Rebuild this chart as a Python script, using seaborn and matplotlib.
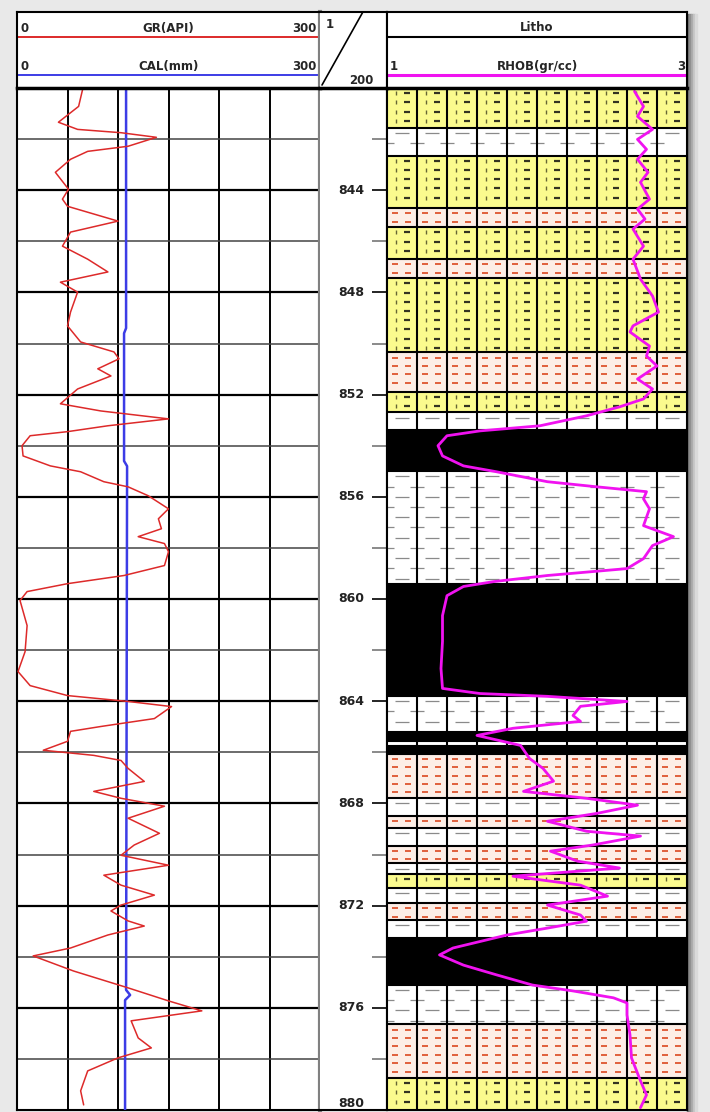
import numpy as np
import matplotlib
matplotlib.use("Agg")
import matplotlib.pyplot as plt
import seaborn as sns

# GR (API) vs depth (m)
gr_depth = [840.05, 840.72, 841.34, 841.62, 841.75, 841.93, 842.28, 842.48, 842.79, 843.30,
            843.96, 844.35, 844.63, 845.21, 845.64, 846.19, 846.70, 847.20, 847.60, 847.99,
            848.77, 849.31, 849.94, 850.33, 850.60, 850.99, 851.27, 851.78, 852.36, 852.64,
            852.95, 853.22, 853.45, 853.61, 854.00, 854.40, 854.79, 855.02, 855.41, 855.61,
            855.96, 856.47, 856.86, 857.25, 857.56, 857.83, 858.15, 858.69, 859.08, 859.40,
            859.71, 860.06, 861.04, 862.06, 862.84, 863.39, 863.78, 864.01, 864.21, 864.68,
            864.99, 865.18, 865.57, 865.92, 866.12, 866.32, 866.63, 867.14, 867.53, 867.80,
            868.11, 868.58, 869.17, 869.63, 870.03, 870.42, 870.81, 871.20, 871.59, 871.98,
            872.21, 872.60, 872.80, 873.15, 873.66, 873.97, 874.56, 875.22, 875.73, 876.12,
            876.51, 877.18, 877.57, 877.96, 878.47, 879.25, 879.80]
gr_api = [65, 61, 41, 60, 103, 138, 110, 70, 53, 38,
          51, 45, 50, 100, 53, 45, 70, 90, 43, 60,
          53, 50, 63, 96, 101, 80, 93, 60, 43, 83,
          150, 90, 50, 13, 5, 6, 33, 63, 86, 110,
          130, 150, 140, 143, 120, 146, 150, 146, 106, 50,
          10, 3, 10, 8, 1, 13, 50, 110, 153, 136,
          83, 53, 50, 26, 76, 103, 110, 126, 76, 103,
          146, 110, 141, 116, 103, 150, 86, 103, 136, 103,
          93, 110, 126, 90, 53, 16, 56, 110, 150, 183,
          113, 120, 133, 100, 70, 63, 66]

# CAL (mm) vs depth (m)
cal_depth = [840.0, 849.4, 849.6, 854.6, 854.8, 875.3, 875.5, 875.7, 880.0]
cal_mm = [108, 108, 106, 106, 109, 108, 112, 107, 107]

# RHOB (gr/cc) vs depth (m)
rhob_depth = [840.13, 840.72, 841.11, 841.62, 842.01, 842.40, 842.79, 843.30, 843.69, 844.35,
              844.74, 845.13, 845.52, 846.19, 846.70, 847.48, 848.14, 848.77, 849.31, 849.55,
              850.10, 850.49, 850.88, 851.39, 851.78, 852.17, 852.48, 852.83, 853.22, 853.42,
              853.61, 854.00, 854.40, 854.79, 855.02, 855.41, 855.61, 855.80, 856.08, 856.47,
              857.13, 857.56, 857.91, 858.42, 858.81, 859.08, 859.32, 859.51, 859.87, 860.65,
              861.66, 862.72, 863.50, 863.70, 863.81, 864.01, 864.20, 864.56, 864.79, 865.06,
              865.34, 865.73, 866.24, 866.63, 867.13, 867.53, 867.80, 868.07, 868.39, 868.70,
              869.09, 869.28, 869.63, 869.87, 870.26, 870.53, 870.85, 871.20, 871.63, 871.98,
              872.37, 872.61, 872.88, 873.15, 873.66, 873.93, 874.33, 874.71, 875.11, 875.34,
              875.61, 875.81, 876.28, 877.06, 877.96, 878.86, 879.41, 879.91]
rhob = [2.65, 2.71, 2.67, 2.77, 2.67, 2.73, 2.67, 2.74, 2.69, 2.75,
        2.67, 2.72, 2.64, 2.71, 2.64, 2.69, 2.77, 2.81, 2.64, 2.62,
        2.75, 2.73, 2.80, 2.67, 2.77, 2.71, 2.55, 2.33, 2.02, 1.62,
        1.40, 1.34, 1.37, 1.51, 1.73, 2.07, 2.40, 2.73, 2.71, 2.75,
        2.71, 2.91, 2.77, 2.71, 2.60, 2.07, 1.71, 1.51, 1.40, 1.37,
        1.37, 1.36, 1.37, 1.62, 2.07, 2.60, 2.29, 2.24, 2.29, 1.84,
        1.60, 1.89, 1.95, 2.04, 2.11, 1.91, 2.33, 2.67, 2.40, 2.07,
        2.33, 2.69, 2.37, 2.09, 2.27, 2.55, 1.84, 2.29, 2.47, 2.07,
        2.29, 2.33, 2.07, 1.80, 1.44, 1.35, 1.51, 1.73, 1.97, 2.24,
        2.51, 2.60, 2.60, 2.62, 2.63, 2.69, 2.73, 2.69]

# lithology column
litho_top = [840.0, 841.55, 842.65, 844.7, 845.45, 846.7, 847.45, 850.35, 851.9, 852.7,
             853.4, 855.0, 859.4, 863.8, 865.2, 865.55, 865.75, 866.05, 867.8, 868.5,
             868.95, 869.65, 870.35, 870.75, 871.3, 871.9, 872.55, 873.25, 875.1, 876.65,
             878.75]
litho_base = litho_top[1:] + [880.0]
litho_type = ["sand", "shale", "sand", "silt", "sand", "silt", "sand", "silt", "sand", "shale",
              "coal", "shale", "coal", "shale", "coal", "shale", "coal", "silt", "shale", "silt",
              "shale", "silt", "shale", "sand", "shale", "silt", "shale", "coal", "shale", "silt",
              "sand"]

depth_labels = [844, 848, 852, 856, 860, 864, 868, 872, 876, 880]

# ---- figure ----
sns.set_style("white")
plt.rcParams["font.family"] = ["DejaVu Sans"]
plt.rcParams["font.weight"] = "bold"

W, H = 710, 1112
TOP, BOT = 88, 1110
fig = plt.figure(figsize=(W / 100, H / 100), dpi=100, facecolor="#e9e9e9")


def box(x0, y0, x1, y1):
    return [x0 / W, 1 - y1 / H, (x1 - x0) / W, (y1 - y0) / H]


# drop shadow on the right
for i, c in enumerate(["#6f6f6f", "#8c8c8c", "#a8a8a8", "#c4c4c4", "#dadada"]):
    fig.add_artist(plt.Rectangle(((687 + 2 * i) / W, 0), 2 / W, 1 - 14 / H,
                                 transform=fig.transFigure, color=c, zorder=0))

ax_gr = fig.add_axes(box(17, TOP, 320, BOT))
ax_dp = fig.add_axes(box(320, TOP, 387, BOT))
ax_li = fig.add_axes(box(387, TOP, 687, BOT))
hd_gr = fig.add_axes(box(17, 12, 320, TOP))
hd_dp = fig.add_axes(box(320, 12, 387, TOP))
hd_li = fig.add_axes(box(387, 12, 687, TOP))

for ax in [ax_gr, ax_dp, ax_li, hd_gr, hd_dp, hd_li]:
    ax.set_facecolor("white")
    ax.set_xticks([])
    ax.set_yticks([])
    for s in ax.spines.values():
        s.set_color("black")
        s.set_linewidth(1.5)
for ax in [ax_gr, hd_gr]:
    ax.spines["right"].set_color("#808080")
    ax.spines["right"].set_linewidth(3)
for ax in [ax_dp, hd_dp]:
    ax.spines["left"].set_visible(False)
for ax in [hd_gr, hd_dp, hd_li]:
    ax.spines["bottom"].set_linewidth(2.5)
    ax.set_ylim(TOP, 12)

# ---- track 1: GR / CAL ----
for x in range(50, 300, 50):
    ax_gr.axvline(x, color="black", lw=1.4, zorder=1)
for d in range(842, 880, 2):
    ax_gr.axhline(d, color="black" if d % 4 == 0 else "#444444",
                  lw=1.6 if d % 4 == 0 else 1.1, zorder=1)
sns.lineplot(x=cal_mm, y=cal_depth, sort=False, estimator=None, color="#3c3ce6",
             lw=1.8, ax=ax_gr, zorder=3)
sns.lineplot(x=gr_api, y=gr_depth, sort=False, estimator=None, color="#dd2a2a",
             lw=1.1, ax=ax_gr, zorder=4)
ax_gr.set_xlim(0, 300)
ax_gr.set_ylim(880, 840)
ax_gr.set_xlabel("")
ax_gr.set_ylabel("")

# ---- depth track ----
ax_dp.set_xlim(0, 1)
ax_dp.set_ylim(880, 840)
ax_dp.yaxis.tick_right()
ax_dp.set_yticks(depth_labels)
ax_dp.set_yticks(range(842, 880, 2), minor=True)
ax_dp.tick_params(axis="y", which="both", direction="in", length=11, width=1.2,
                  colors="black", labelright=False, right=True)
ax_dp.tick_params(axis="y", which="minor", color="#777777")
for d in depth_labels:
    # the last label sits on the bottom edge: keep it just inside the frame
    va = "bottom" if d == depth_labels[-1] else "center"
    ax_dp.text(0.47, d, str(d), ha="center", va=va, fontsize=9,
               fontweight="bold", color="#222222", clip_on=False)

# ---- track 3: lithology + RHOB ----
colors = {"sand": "#fbfb8e", "shale": "#ffffff", "silt": "#fdeee6", "coal": "#000000"}
cols = np.arange(1.0, 3.0, 0.2)
for top, base, kind in zip(litho_top, litho_base, litho_type):
    ax_li.axhspan(top, base, color=colors[kind], lw=0, zorder=0)
    if kind == "sand":
        rows = np.arange(top + 0.2, base - 0.1, 0.36)
        xx, yy = np.meshgrid(cols, rows)
        ax_li.plot((xx + 0.06).ravel(), yy.ravel(), ls="none", marker="|", ms=3,
                   mew=1, color="#666633", zorder=1)
        ax_li.plot((xx + 0.13).ravel(), yy.ravel(), ls="none", marker="_", ms=4,
                   mew=1.6, color="#333322", zorder=1)
    elif kind == "silt":
        rows = np.arange(top + 0.2, base - 0.1, 0.33)
        xx, yy = np.meshgrid(cols, rows)
        ax_li.plot((xx + 0.05).ravel(), yy.ravel(), ls="none", marker="_", ms=4.5,
                   mew=1.4, color="#e0603c", zorder=1)
        ax_li.plot((xx + 0.14).ravel(), yy.ravel(), ls="none", marker="_", ms=4.5,
                   mew=1.4, color="#e0603c", zorder=1)
    elif kind == "shale":
        rows = np.arange(top + 0.2, base - 0.1, 0.4)
        for i, r in enumerate(rows):
            off = 0.1 if i % 2 == 0 else 0.0
            ax_li.plot(cols + off, np.full(len(cols), r), ls="none", marker="_", ms=10,
                       mew=0.9, color="#8a8a8a", zorder=1)
for x in cols[1:]:
    ax_li.axvline(x, color="black", lw=1.5, zorder=2)
for d in sorted(set(litho_top[1:])):
    ax_li.axhline(d, color="black", lw=1.5, zorder=2)
sns.lineplot(x=rhob, y=rhob_depth, sort=False, estimator=None, color="#f012f0",
             lw=2.0, ax=ax_li, zorder=5)
ax_li.set_xlim(1, 3)
ax_li.set_ylim(880, 840)
ax_li.set_xlabel("")
ax_li.set_ylabel("")

# ---- headers ----
fs = 8.5
hd_gr.set_xlim(0, 300)
hd_gr.axhline(37, color="#dd2a2a", lw=1.4)
hd_gr.axhline(75, color="#3c3ce6", lw=1.4)
for y, name in [(35, "GR(API)"), (73, "CAL(mm)")]:
    hd_gr.text(3, y, "0", ha="left", va="bottom", fontsize=fs, fontweight="bold")
    hd_gr.text(150, y, name, ha="center", va="bottom", fontsize=fs, fontweight="bold")
    hd_gr.text(297, y, "300", ha="right", va="bottom", fontsize=fs, fontweight="bold")

hd_dp.set_xlim(0, 1)
hd_dp.plot([0.64, 0.03], [12, 85], color="black", lw=1.2)
hd_dp.text(0.08, 24, "1", ha="left", va="center", fontsize=fs, fontweight="bold")
hd_dp.text(0.62, 80, "200", ha="center", va="center", fontsize=fs, fontweight="bold")

hd_li.set_xlim(1, 3)
hd_li.axhline(37, color="black", lw=1.5)
hd_li.axhline(75, color="#f012f0", lw=2.2)
hd_li.text(2.0, 34, "Litho", ha="center", va="bottom", fontsize=fs, fontweight="bold")
hd_li.text(2.0, 73, "RHOB(gr/cc)", ha="center", va="bottom", fontsize=fs, fontweight="bold")
hd_li.text(1.02, 73, "1", ha="left", va="bottom", fontsize=fs, fontweight="bold")
hd_li.text(2.99, 73, "3", ha="right", va="bottom", fontsize=fs, fontweight="bold")

fig.savefig("out.png", dpi=100, facecolor=fig.get_facecolor())
